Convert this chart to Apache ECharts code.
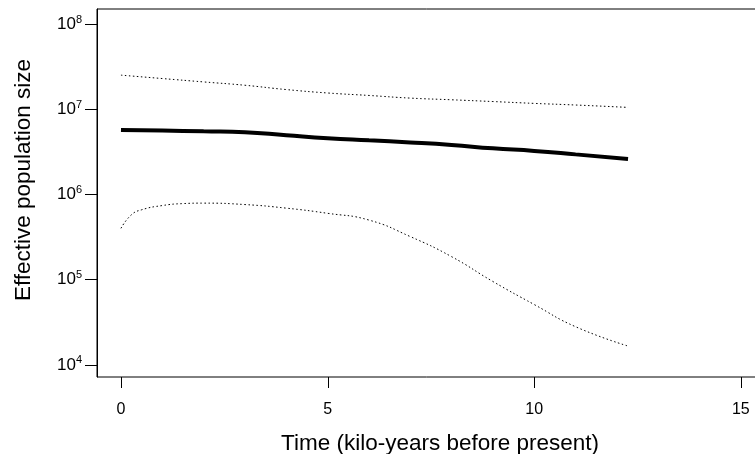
<!DOCTYPE html>
<html>
<head>
<meta charset="utf-8" />
<title>Effective population size</title>
<script src="https://cdn.jsdelivr.net/npm/echarts@6/dist/echarts.min.js"></script>
<style>
  html, body { margin: 0; padding: 0; background: #fff; }
  #main { width: 755px; height: 454px; }
</style>
</head>
<body>
<div id="main"></div>
<script>
// time axis (kilo-years before present)
var times = [0, 1, 2, 3, 4, 5, 6, 7, 8, 9, 10, 11, 12.27];
var upperCI = [2.51e7, 2.29e7, 2.09e7, 1.91e7, 1.70e7, 1.55e7, 1.45e7, 1.35e7, 1.29e7, 1.23e7, 1.17e7, 1.12e7, 1.05e7];
var median = [5.70e6, 5.62e6, 5.50e6, 5.37e6, 4.95e6, 4.57e6, 4.31e6, 4.07e6, 3.80e6, 3.47e6, 3.24e6, 2.95e6, 2.60e6];

var lowerTimes = [0, 0.25, 0.5, 1, 1.5, 2, 3, 4, 5, 6, 7, 8, 9, 10, 11, 12.27];
var lowerCI = [4.0e5, 5.75e5, 6.6e5, 7.4e5, 7.8e5, 7.9e5, 7.6e5, 6.9e5, 6.0e5, 5.0e5, 3.2e5, 1.86e5, 9.5e4, 5.1e4, 2.8e4, 1.66e4];

var xTicks = [0, 5, 10, 15];
var yTicks = [1e4, 1e5, 1e6, 1e7, 1e8];

function pairs(xs, ys) {
    return xs.map(function (x, i) { return [x, ys[i]]; });
}

var myChart = echarts.init(document.getElementById('main'));
var font = 'Liberation Sans, Arial, sans-serif';
var gridTop = 9, gridHeight = 368;

// plot box runs past the right edge of the picture, like the original
var option = {
    backgroundColor: '#fff',
    animation: false,
    grid: {
        left: 97, top: gridTop, width: 686, height: gridHeight,
        outerBoundsMode: 'none',
        containLabel: false,
        show: true, borderColor: '#000', borderWidth: 1
    },
    xAxis: [
        {
            type: 'value',
            min: -0.58,
            max: 16.02,
            name: 'Time (kilo-years before present)',
            nameLocation: 'middle',
            nameGap: 55,
            nameTextStyle: { fontFamily: font, fontSize: 22.5, color: '#000' },
            axisLine: { show: false },
            splitLine: { show: false },
            axisTick: { show: false },
            axisLabel: { customValues: xTicks, margin: 25, fontFamily: font, fontSize: 16, color: '#000' }
        },
        {
            // helper axis that never crosses zero, so the y axis stays on the box edge
            type: 'value', min: 1, max: 2, show: false
        }
    ],
    yAxis: {
        type: 'log',
        logBase: 10,
        min: Math.pow(10, 3.857),
        max: Math.pow(10, 8.176),
        name: 'Effective population size',
        nameLocation: 'middle',
        nameGap: 62,
        nameTextStyle: { fontFamily: font, fontSize: 22.5, color: '#000', padding: [0, 0, 0, 26] },
        axisLine: { show: true, onZeroAxisIndex: 1, lineStyle: { color: '#000', width: 1 } },
        splitLine: { show: false },
        axisTick: { show: true, length: 12, customValues: yTicks, lineStyle: { color: '#000', width: 1 } },
        axisLabel: {
            customValues: yTicks,
            margin: 15,
            fontFamily: font,
            fontSize: 17,
            color: '#000',
            formatter: function (v) {
                return '10{sup|' + Math.round(Math.log10(v)) + '}';
            },
            rich: {
                sup: { fontFamily: font, fontSize: 11, color: '#000', verticalAlign: 'top', padding: [0, 0, 9, 0] }
            }
        }
    },
    series: [
        {
            name: 'upper',
            type: 'line',
            data: pairs(times, upperCI),
            smooth: true,
            showSymbol: false,
            lineStyle: { color: '#000', width: 1, type: [1.5, 2.5] }
        },
        {
            name: 'median',
            type: 'line',
            data: pairs(times, median),
            smooth: true,
            showSymbol: false,
            lineStyle: { color: '#000', width: 4 }
        },
        {
            name: 'lower',
            type: 'line',
            data: pairs(lowerTimes, lowerCI),
            smooth: true,
            showSymbol: false,
            lineStyle: { color: '#000', width: 1, type: [1.5, 2.5] }
        }
    ]
};
myChart.setOption(option);

// x ticks: placed through the chart's own x scale, hanging under the box
var py = gridTop + gridHeight;
var tickMarks = xTicks.map(function (t) {
    var px = Math.round(myChart.convertToPixel({ xAxisIndex: 0 }, t)) + 0.5;
    return {
        type: 'line',
        z: 100,
        shape: { x1: px, y1: py, x2: px, y2: py + 11 },
        style: { stroke: '#000', lineWidth: 1 },
        silent: true
    };
});
myChart.setOption({ graphic: tickMarks });
</script>
</body>
</html>
